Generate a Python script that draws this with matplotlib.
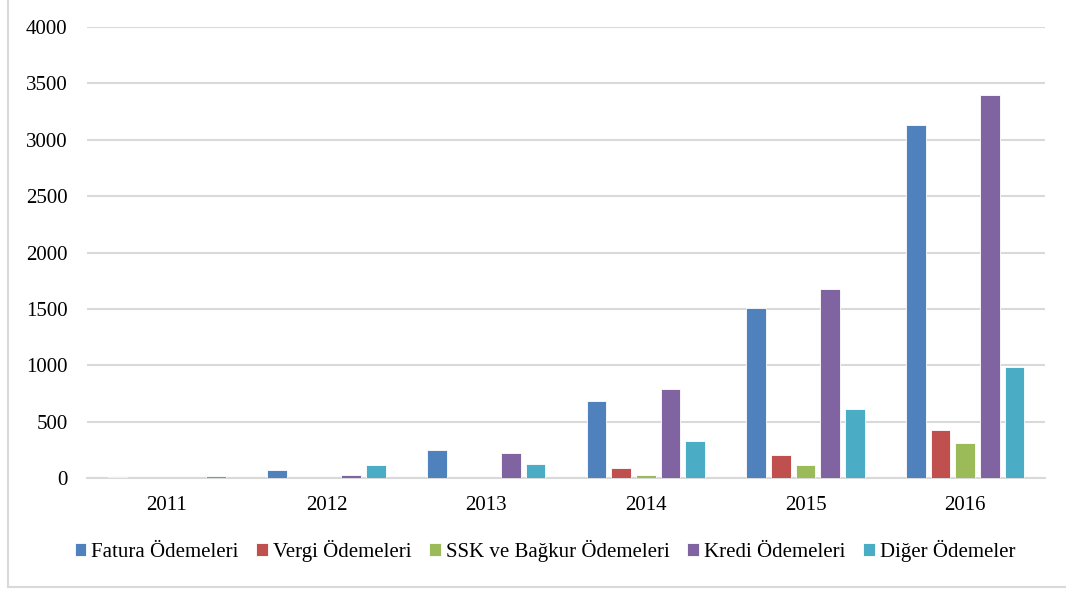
import numpy as np
import matplotlib.pyplot as plt
from matplotlib.lines import Line2D

years = ["2011", "2012", "2013", "2014", "2015", "2016"]
series = ["Fatura Ödemeleri", "Vergi Ödemeleri", "SSK ve Bağkur Ödemeleri",
          "Kredi Ödemeleri", "Diğer Ödemeler"]
fatura = [8, 71, 246, 686, 1508, 3132]
vergi = [0, 1, 3, 89, 207, 426]
ssk = [0, 0, 1, 24, 115, 308]
kredi = [1, 27, 225, 792, 1676, 3397]
diger = [16, 113, 121, 325, 609, 985]
colors = ["#4F81BD", "#C0504D", "#9BBB59", "#8064A2", "#4BACC6"]

plt.rcParams['font.family'] = ['Liberation Serif', 'DejaVu Serif']

fig = plt.figure(figsize=(10.66, 5.89), dpi=100)
ax = fig.add_axes([87 / 1066, 1 - 478 / 589, (1045 - 87) / 1066, (478 - 27) / 589])

x = np.arange(len(years))
pitch = 0.1545
width = 0.122
for i, (name, vals) in enumerate(zip(series, [fatura, vergi, ssk, kredi, diger])):
    ax.bar(x + (i - 2) * pitch, vals, width, color=colors[i], label=name,
           edgecolor="white", linewidth=0.6, zorder=3)

ax.set_xlim(-0.5, len(years) - 0.5)
ax.set_ylim(0, 4000)
ax.set_yticks(range(0, 4001, 500))
ax.set_xticks(x)
ax.set_xticklabels(years)
ax.tick_params(axis="both", length=0, labelsize=15)
ax.tick_params(axis="y", pad=14)
ax.tick_params(axis="x", pad=13)
ax.grid(axis="y", color="#D9D9D9", linewidth=1.5, zorder=0)
for s in ["top", "right", "left"]:
    ax.spines[s].set_visible(False)
ax.spines["bottom"].set_color("#D9D9D9")
ax.spines["bottom"].set_linewidth(1.5)

ax.legend(loc="center", bbox_to_anchor=(545 / 1066, 1 - 551 / 589),
          bbox_transform=fig.transFigure, ncol=5, frameon=False, fontsize=15,
          handlelength=0.55, handleheight=0.55, handletextpad=0.25,
          columnspacing=0.85, borderpad=0)

# outer chart border (left and bottom visible)
fig.add_artist(Line2D([8 / 1066, 8 / 1066], [1, 1 - 587 / 589],
                      transform=fig.transFigure, color="#D9D9D9", linewidth=1.5))
fig.add_artist(Line2D([8 / 1066, 1], [1 - 587 / 589, 1 - 587 / 589],
                      transform=fig.transFigure, color="#D9D9D9", linewidth=1.5))

fig.savefig("out.png", dpi=100)
